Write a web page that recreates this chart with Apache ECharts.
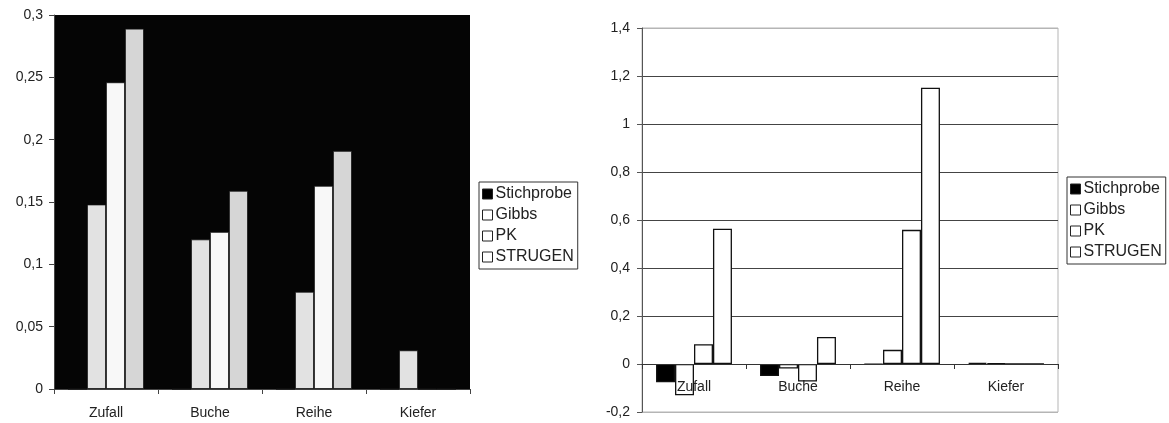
<!DOCTYPE html>
<html>
<head>
<meta charset="utf-8">
<script src="https://cdn.jsdelivr.net/npm/echarts@6/dist/echarts.min.js"></script>
<style>
  html, body { margin: 0; padding: 0; background: #fff; }
  #chart { width: 1169px; height: 423px; }
</style>
</head>
<body>
<div id="chart"></div>
<script>
// Categories and series shared by both panels
const categories = ['Zufall', 'Buche', 'Reihe', 'Kiefer']
const seriesNames = ['Stichprobe', 'Gibbs', 'PK', 'STRUGEN']

// Left panel values
const leftStichprobe = [0, 0, 0, 0]
const leftGibbs = [0.148, 0.12, 0.078, 0.031]
const leftPK = [0.246, 0.126, 0.163, 0]
const leftStrugen = [0.289, 0.159, 0.191, 0]

// Right panel values
const rightStichprobe = [-0.076, -0.05, -0.002, 0.005]
const rightGibbs = [-0.13, -0.019, 0.059, 0.002]
const rightPK = [0.082, -0.073, 0.559, 0]
const rightStrugen = [0.564, 0.113, 1.151, 0]

const font = 'Liberation Sans, Arial, sans-serif'
const textColor = '#222'
const comma = v => String(Math.round(v * 100) / 100).replace('.', ',')

// Left panel colours (dark background)
const leftColors = ['#000', '#e2e2e2', '#f8f8f8', '#d6d6d6']
const leftData = [leftStichprobe, leftGibbs, leftPK, leftStrugen]
const rightData = [rightStichprobe, rightGibbs, rightPK, rightStrugen]

function legendItems() {
  return seriesNames.map((n, i) => ({
    name: n,
    itemStyle: { color: i === 0 ? '#000' : '#fff', borderColor: '#222', borderWidth: 1 },
  }))
}

function legendBase(left, top) {
  return {
    left, top,
    orient: 'vertical',
    data: legendItems(),
    selectedMode: false,
    icon: 'rect',
    itemWidth: 10,
    itemHeight: 10,
    itemGap: 5,
    padding: [4, 4, 4, 3],
    borderColor: '#333',
    borderWidth: 1,
    backgroundColor: '#fff',
    textStyle: { fontFamily: font, fontSize: 16, color: textColor, padding: [0, 0, 0, -2] },
  }
}

const series = []
leftData.forEach((d, i) => {
  series.push({
    name: seriesNames[i], type: 'bar', xAxisIndex: 0, yAxisIndex: 0,
    data: d, barGap: '0%', barCategoryGap: '27%',
    itemStyle: { color: leftColors[i], borderColor: '#111', borderWidth: 0.8 },
  })
})
rightData.forEach((d, i) => {
  series.push({
    name: seriesNames[i], type: 'bar', xAxisIndex: 1, yAxisIndex: 1,
    data: d, barGap: '0%', barCategoryGap: '27%',
    itemStyle: { color: i === 0 ? '#000' : '#fff', borderColor: '#111', borderWidth: 1.3 },
  })
})

const chart = echarts.init(document.getElementById('chart'), null, { renderer: 'canvas' })
chart.setOption({
  animation: false,
  backgroundColor: '#fff',
  grid: [
    { left: 54, top: 15, width: 416, height: 374, show: true, backgroundColor: '#050505', borderWidth: 0, outerBoundsMode: 'none' },
    { left: 642, top: 28, width: 416, height: 384, show: true, backgroundColor: '#fff', borderColor: '#b5b5b5', borderWidth: 1, outerBoundsMode: 'none' },
  ],
  legend: [legendBase(479, 182), legendBase(1067, 177)],
  xAxis: [
    {
      type: 'category', gridIndex: 0, data: categories,
      axisLine: { lineStyle: { color: '#444', width: 1 } },
      axisTick: { show: true, length: 5, lineStyle: { color: '#444' } },
      axisLabel: { fontFamily: font, fontSize: 14, color: textColor, margin: 17 },
    },
    {
      type: 'category', gridIndex: 1, data: categories, z: 5,
      axisLine: { onZero: true, lineStyle: { color: '#333', width: 1.2 } },
      axisTick: { show: true, length: 5, lineStyle: { color: '#333' } },
      // labels sit just under the zero line, inside the plot
      axisLabel: { fontFamily: font, fontSize: 14, color: textColor, margin: -32 },
    },
  ],
  yAxis: [
    {
      type: 'value', gridIndex: 0, min: 0, max: 0.3, interval: 0.05,
      axisLine: { show: true, lineStyle: { color: '#444' } },
      axisTick: { show: true, length: 5, lineStyle: { color: '#444' } },
      splitLine: { show: false },
      axisLabel: { fontFamily: font, fontSize: 14, color: textColor, margin: 11, formatter: comma },
    },
    {
      type: 'value', gridIndex: 1, min: -0.2, max: 1.4, interval: 0.2,
      axisLine: { show: true, lineStyle: { color: '#555' } },
      axisTick: { show: true, length: 5, lineStyle: { color: '#555' } },
      splitLine: {
        show: true,
        lineStyle: { color: ['#b5b5b5', '#444', '#444', '#444', '#444', '#444', '#444', '#444', '#b5b5b5'], width: 1.2 },
      },
      axisLabel: { fontFamily: font, fontSize: 14, color: textColor, margin: 12, formatter: comma },
    },
  ],
  series,
})
</script>
</body>
</html>
